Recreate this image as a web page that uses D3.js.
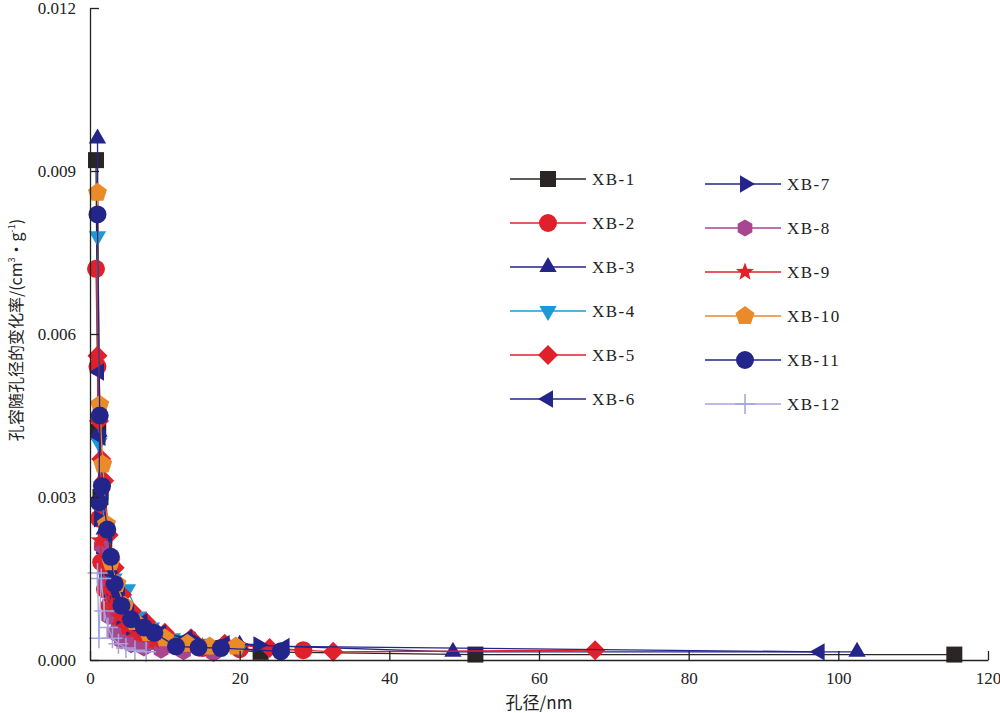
<!DOCTYPE html>
<html><head><meta charset="utf-8">
<script src="https://cdn.jsdelivr.net/npm/d3@7"></script>
<style>body{margin:0;background:#fff}svg{font-family:"Liberation Serif","DejaVu Serif",serif}
.tk text{font-family:"Liberation Serif",serif !important;font-size:17px !important;fill:#222}</style>
</head><body><svg id="c" width="1000" height="713"></svg>
<script>
const names = ["XB-1","XB-2","XB-3","XB-4","XB-5","XB-6","XB-7","XB-8","XB-9","XB-10","XB-11","XB-12"];
const colors = ["#2b2525","#e0202a","#23258a","#1a9ad8","#e0202a","#23258a","#23258a","#a8468f","#e0202a","#ea8a28","#23258a","#a4a4dc"];
const shapes = ["square","circle","up","down","diamond","left","right","hexagon","star","pentagon","circle","plus"];
const xs = [
  [0.8,1.1,1.4,1.9,2.5,3.3,4.5,6,8.5,12,16,22.8,51.5,115.5],
  [0.8,1,1.2,1.5,2,2.6,3.4,4.5,6,8,11,15,20,28.5],
  [1,1.2,1.5,1.9,2.5,3.2,4.2,5.5,7.5,10,14,20,48.5,102.5],
  [1,1.2,1.5,1.9,2.5,3.2,4.2,5,6.5,8.2,11,15,20],
  [1,1.2,1.5,1.9,2.5,3.3,4.3,5.6,7.5,10,13.5,18,24,32.5,67.5],
  [1.2,1.4,1.8,2.3,3,4,5.2,7,9.5,13,18,26,97.5],
  [1.2,1.5,1.9,2.5,3.2,4.2,5.5,7.5,10,14,22.5],
  [1.5,1.9,2.5,3.2,4.2,5.5,7.2,9.5,12.5,16.5],
  [1.3,1.7,2.2,2.9,3.8,5,6.5,8.5,11,15],
  [1,1.3,1.7,2.2,2.8,3.6,4.6,6,7.8,10,13,16,19.5],
  [1,1.3,1.2,1.6,2.3,2.8,3.3,4.2,5.5,7.2,8.6,11.5,14.5,17.5,25.5],
  [1,1.2,1.5,1.9,2.4,3,3.8,4.8,6,7.5]
];
const ys = [
  [0.0092,0.0042,0.0030,0.0021,0.0015,0.0011,0.0008,0.00055,0.0004,0.0003,0.00022,0.00015,0.0001,0.0001],
  [0.0072,0.0054,0.0026,0.0018,0.0013,0.001,0.0008,0.0006,0.00045,0.00035,0.00028,0.00022,0.0002,0.00018],
  [0.0096,0.0042,0.0033,0.0024,0.0017,0.0013,0.001,0.0008,0.0006,0.00045,0.00035,0.00028,0.00015,0.00015],
  [0.0078,0.0040,0.0032,0.0025,0.0019,0.0015,0.0012,0.0013,0.0008,0.0006,0.0004,0.0003,0.00022],
  [0.0056,0.0044,0.0037,0.0033,0.0023,0.0017,0.0012,0.0009,0.0007,0.0005,0.0004,0.0003,0.00022,0.00015,0.00018],
  [0.0053,0.0041,0.0031,0.0023,0.0016,0.0012,0.0009,0.0007,0.0005,0.0004,0.0003,0.00025,0.00015],
  [0.0026,0.0021,0.0016,0.0013,0.001,0.0008,0.0006,0.00045,0.0004,0.00035,0.00028],
  [0.0021,0.0014,0.0008,0.0005,0.00035,0.00028,0.00022,0.00018,0.00015,0.00012],
  [0.0022,0.0017,0.0013,0.001,0.0008,0.0006,0.00045,0.00035,0.0003,0.00025],
  [0.0086,0.0047,0.0036,0.0025,0.0018,0.0014,0.001,0.0007,0.0005,0.0004,0.0003,0.00025,0.00025],
  [0.0082,0.0045,0.0029,0.0032,0.0024,0.0019,0.0014,0.001,0.00075,0.0006,0.0005,0.00025,0.00023,0.00022,0.00016],
  [0.0016,0.0004,0.0015,0.0009,0.0006,0.0004,0.0003,0.00022,0.00018,0.00015]
];
const xTicks = [0,20,40,60,80,100,120];
const yTicks = [0,0.003,0.006,0.009,0.012];

const svg = d3.select("#c");
const x = d3.scaleLinear().domain([0,120]).range([90,988]);
const y = d3.scaleLinear().domain([0,0.012]).range([660,8]);

function marker(g, shape, cx, cy, col, s) {
  const r = s/2;
  const poly = (n, rot) => d3.range(n).map(i => {
    const a = rot + i*2*Math.PI/n; return [cx + r*Math.cos(a), cy + r*Math.sin(a)];
  });
  let pts;
  if (shape==="circle") return g.append("circle").attr("cx",cx).attr("cy",cy).attr("r",r*0.9).attr("fill",col);
  if (shape==="square") { const h=r*0.8; pts=[[cx-h,cy-h],[cx+h,cy-h],[cx+h,cy+h],[cx-h,cy+h]]; }
  else if (shape==="up") pts=poly(3,-Math.PI/2);
  else if (shape==="down") pts=poly(3,Math.PI/2);
  else if (shape==="left") pts=poly(3,Math.PI);
  else if (shape==="right") pts=poly(3,0);
  else if (shape==="diamond") pts=poly(4,0);
  else if (shape==="hexagon") pts=poly(6,Math.PI/6).map(p=>[cx+(p[0]-cx)*0.85,cy+(p[1]-cy)*0.85]);
  else if (shape==="pentagon") pts=poly(5,-Math.PI/2);
  else if (shape==="star") pts=d3.range(10).map(i=>{const rr=i%2?r*0.4:r*0.95,a=-Math.PI/2+i*Math.PI/5;return [cx+rr*Math.cos(a),cy+rr*Math.sin(a)];});
  else if (shape==="plus") return g.append("path").attr("d",`M${cx-r},${cy}H${cx+r}M${cx},${cy-r}V${cy+r}`).attr("stroke",col).attr("stroke-width",1.5);
  return g.append("polygon").attr("points",pts.map(p=>p.join(",")).join(" ")).attr("fill",col);
}

// series
const line = d3.line().x(d=>x(d[0])).y(d=>y(d[1]));
names.forEach((n,i) => {
  const data = xs[i].map((v,j)=>[v,ys[i][j]]);
  const g = svg.append("g");
  g.append("path").attr("d",line(data)).attr("fill","none").attr("stroke",colors[i]).attr("stroke-width",1.3);
  data.forEach(d => marker(g, shapes[i], x(d[0]), y(d[1]), colors[i], 20));
});

// axes
const ax = svg.append("g").attr("class","tk").attr("transform","translate(0,660)").call(d3.axisBottom(x).tickValues(xTicks).tickSizeInner(-9).tickSizeOuter(0).tickPadding(12));
const ay = svg.append("g").attr("class","tk").attr("transform","translate(90,0)").call(d3.axisLeft(y).tickValues(yTicks).tickFormat(d3.format(".3f")).tickSizeInner(-9).tickSizeOuter(0).tickPadding(14));
[ax,ay].forEach(a=>{
  a.selectAll("line,path").attr("stroke","#222").attr("stroke-width",1.3);
});

svg.append("text").attr("x",539).attr("y",709).attr("text-anchor","middle").attr("font-size",17).attr("fill","#222")
  .style("font-family","Noto Sans CJK SC").text("孔径/nm");
const yl = svg.append("text").attr("transform","translate(22,330) rotate(-90)").attr("text-anchor","middle").attr("font-size",16).attr("fill","#222").style("font-family","Noto Sans CJK SC");
yl.append("tspan").text("孔容随孔径的变化率/(cm");
yl.append("tspan").attr("font-size",9).attr("dy",-7).text("3");
yl.append("tspan").attr("dy",7).text("·g");
yl.append("tspan").attr("font-size",9).attr("dy",-7).text("-1");
yl.append("tspan").attr("dy",7).text(")");

// legend
names.forEach((n,i)=>{
  const col = i<6 ? 0 : 1, row = i%6;
  const x0 = col ? 705 : 510, xm = col ? 745 : 548, xt = col ? 787 : 592;
  const yy = (col ? 184 : 179) + row*44;
  const g = svg.append("g");
  g.append("line").attr("x1",x0).attr("x2",x0+76).attr("y1",yy).attr("y2",yy).attr("stroke",colors[i]).attr("stroke-width",1.3);
  marker(g, shapes[i], xm, yy, colors[i], 20);
  g.append("text").attr("x",xt).attr("y",yy).attr("dy","0.35em").attr("font-size",17).attr("letter-spacing",1.5).attr("fill","#222").text(n);
});
</script></body></html>
